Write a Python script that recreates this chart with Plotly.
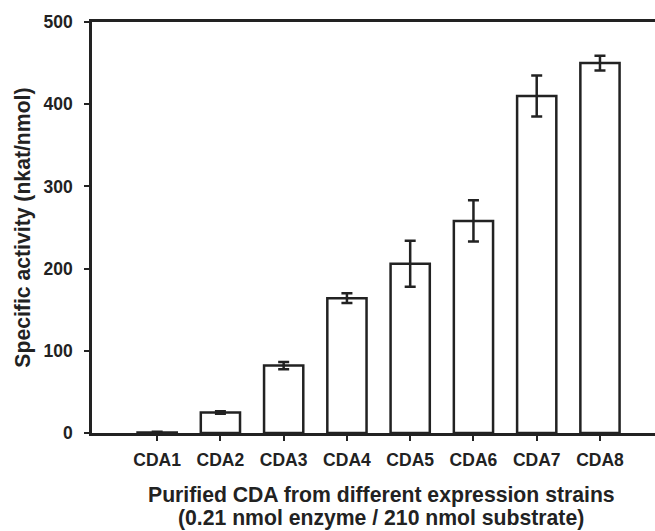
import plotly.graph_objects as go

categories = ["CDA1", "CDA2", "CDA3", "CDA4", "CDA5", "CDA6", "CDA7", "CDA8"]
activity = [0.5, 25, 82, 164, 206, 258, 410, 450]
errors = [1, 1.5, 4.5, 6, 28, 25, 25, 9]
y_ticks = [0, 100, 200, 300, 400, 500]

x_title_1 = "Purified CDA from different expression strains"
x_title_2 = "(0.21 nmol enzyme / 210 nmol substrate)"
y_title = "Specific activity (nkat/nmol)"

ink = "#222222"
font_family = "Liberation Sans, Arial, sans-serif"

fig = go.Figure()
fig.add_trace(go.Bar(
    x=categories,
    y=activity,
    width=0.62,
    marker=dict(color="white", line=dict(color=ink, width=2.5)),
    error_y=dict(type="data", array=errors, visible=True, color=ink, thickness=2.5, width=5.5),
    showlegend=False,
))

tick_font = dict(size=17.5, family=font_family, color=ink, weight="bold")
title_font = dict(size=21.2, family=font_family, color=ink, weight="bold")

fig.update_layout(
    width=655,
    height=531,
    margin=dict(l=92, r=0, t=22, b=98, autoexpand=False),
    plot_bgcolor="white",
    paper_bgcolor="white",
    font=dict(family=font_family, color=ink),
    xaxis=dict(
        type="category",
        range=[-1.03, 7.87],
        automargin=False,
        showline=True, linecolor=ink, linewidth=2.5, mirror=True,
        ticks="outside", ticklen=5, tickwidth=2, tickcolor=ink,
        showgrid=False, zeroline=False,
        tickfont=tick_font,
        ticklabelstandoff=4,
    ),
    yaxis=dict(
        range=[0, 500],
        tickvals=y_ticks,
        automargin=False,
        showline=True, linecolor=ink, linewidth=2.5,
        ticks="outside", ticklen=5, tickwidth=2, tickcolor=ink,
        showgrid=False, zeroline=False,
        tickfont=tick_font,
        ticklabelstandoff=8,
    ),
    annotations=[
        dict(text=x_title_1, xref="paper", yref="paper", x=0.514, y=0,
             xanchor="center", yanchor="middle", yshift=-62, showarrow=False, font=title_font),
        dict(text=x_title_2, xref="paper", yref="paper", x=0.514, y=0,
             xanchor="center", yanchor="middle", yshift=-85, showarrow=False, font=title_font),
        dict(text=y_title, xref="paper", yref="paper", x=-0.124, y=0.5,
             xanchor="center", yanchor="middle", textangle=-90, showarrow=False, font=title_font),
    ],
)

fig.write_html(
    "out.html",
    config={"displayModeBar": False},
    post_script="document.body.style.margin='0';document.documentElement.style.overflow='hidden';document.body.style.overflow='hidden';",
)
